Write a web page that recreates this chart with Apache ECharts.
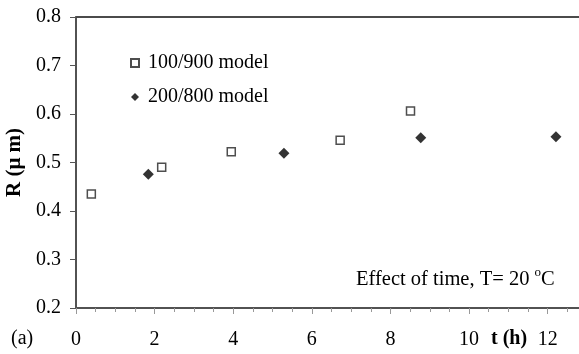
<!DOCTYPE html>
<html>
<head>
<meta charset="utf-8">
<script src="https://cdn.jsdelivr.net/npm/echarts@6/dist/echarts.min.js"></script>
<style>
  html, body { margin: 0; padding: 0; background: #fff; }
  #chart { width: 579px; height: 354px; }
</style>
</head>
<body>
<div id="chart"></div>
<script>
// 100/900 model (open squares)
var timeA = [0.39, 2.18, 3.95, 6.72, 8.51];
var radiusA = [0.435, 0.490, 0.522, 0.546, 0.606];
// 200/800 model (filled diamonds)
var timeB = [1.84, 5.29, 8.77, 12.21];
var radiusB = [0.476, 0.519, 0.551, 0.553];

var seriesNames = ['100/900 model', '200/800 model'];
var font = 'Liberation Serif';

function pairs(xs, ys) {
    return xs.map(function (x, i) { return [x, ys[i]]; });
}

var chart = echarts.init(document.getElementById('chart'));

var option = {
    animation: false,
    backgroundColor: '#fff',
    grid: {
        left: 76, top: 17, bottom: 46, right: -8,
        outerBoundsMode: 'none',
        containLabel: false,
        show: true, borderColor: '#111', borderWidth: 1.5,
        backgroundColor: 'transparent'
    },
    legend: {
        orient: 'vertical',
        left: 130, top: 52,
        padding: 0,
        itemWidth: 8, itemHeight: 8,
        itemGap: 12,
        textStyle: { fontFamily: font, fontSize: 20, color: '#000', lineHeight: 22, padding: [0, 0, 0, 4] },
        data: seriesNames
    },
    xAxis: [{
        type: 'value',
        min: 0, max: 13, interval: 2,
        splitLine: { show: false },
        axisLine: { lineStyle: { color: '#555', width: 1.5 } },
        axisTick: { length: 6, lineStyle: { color: '#999' } },
        axisLabel: { fontFamily: font, fontSize: 20, color: '#000', margin: 22, showMaxLabel: false }
    }, {
        // minor ticks pointing up from the bottom axis
        type: 'value',
        position: 'top',
        offset: -291,
        min: 0, max: 13, interval: 0.5,
        splitLine: { show: false },
        axisLine: { show: false },
        axisTick: { inside: true, length: 4, lineStyle: { color: '#999' } },
        axisLabel: { show: false }
    }],
    yAxis: {
        type: 'value',
        min: 0.2, max: 0.8, interval: 0.1,
        name: 'R (μ m)',
        nameLocation: 'middle',
        nameGap: 48,
        nameTextStyle: { fontFamily: font, fontSize: 21, fontWeight: 'bold', color: '#000' },
        splitLine: { show: false },
        axisLine: { lineStyle: { color: '#555', width: 1.5 } },
        axisTick: { length: 6, lineStyle: { color: '#555' } },
        axisLabel: {
            fontFamily: font, fontSize: 20, color: '#000', margin: 15,
            formatter: function (v) { return v.toFixed(1); }
        }
    },
    graphic: [
        {
            type: 'text', left: 491, top: 329,
            style: { text: 't (h)', font: 'bold 20px "Liberation Serif"', fill: '#000' }
        },
        {
            type: 'text', left: 11, top: 329,
            style: { text: '(a)', font: '20px "Liberation Serif"', fill: '#000' }
        },
        {
            type: 'text', left: 356, top: 266,
            style: {
                text: '{n|Effect of time, T= 20 }{s|o}{n|C}',
                rich: {
                    n: { fontFamily: font, fontSize: 20.5, fill: '#000', lineHeight: 24, verticalAlign: 'bottom' },
                    s: { fontFamily: font, fontSize: 13, fill: '#000', lineHeight: 12, verticalAlign: 'top' }
                }
            }
        }
    ],
    series: [{
        name: seriesNames[0],
        type: 'scatter',
        symbol: 'rect',
        symbolSize: 8,
        itemStyle: { color: '#fff', borderColor: '#222', borderWidth: 1.5 },
        data: pairs(timeA, radiusA)
    }, {
        name: seriesNames[1],
        type: 'scatter',
        symbol: 'diamond',
        symbolSize: 11,
        itemStyle: { color: '#000' },
        data: pairs(timeB, radiusB)
    }]
};

chart.setOption(option);
</script>
</body>
</html>
